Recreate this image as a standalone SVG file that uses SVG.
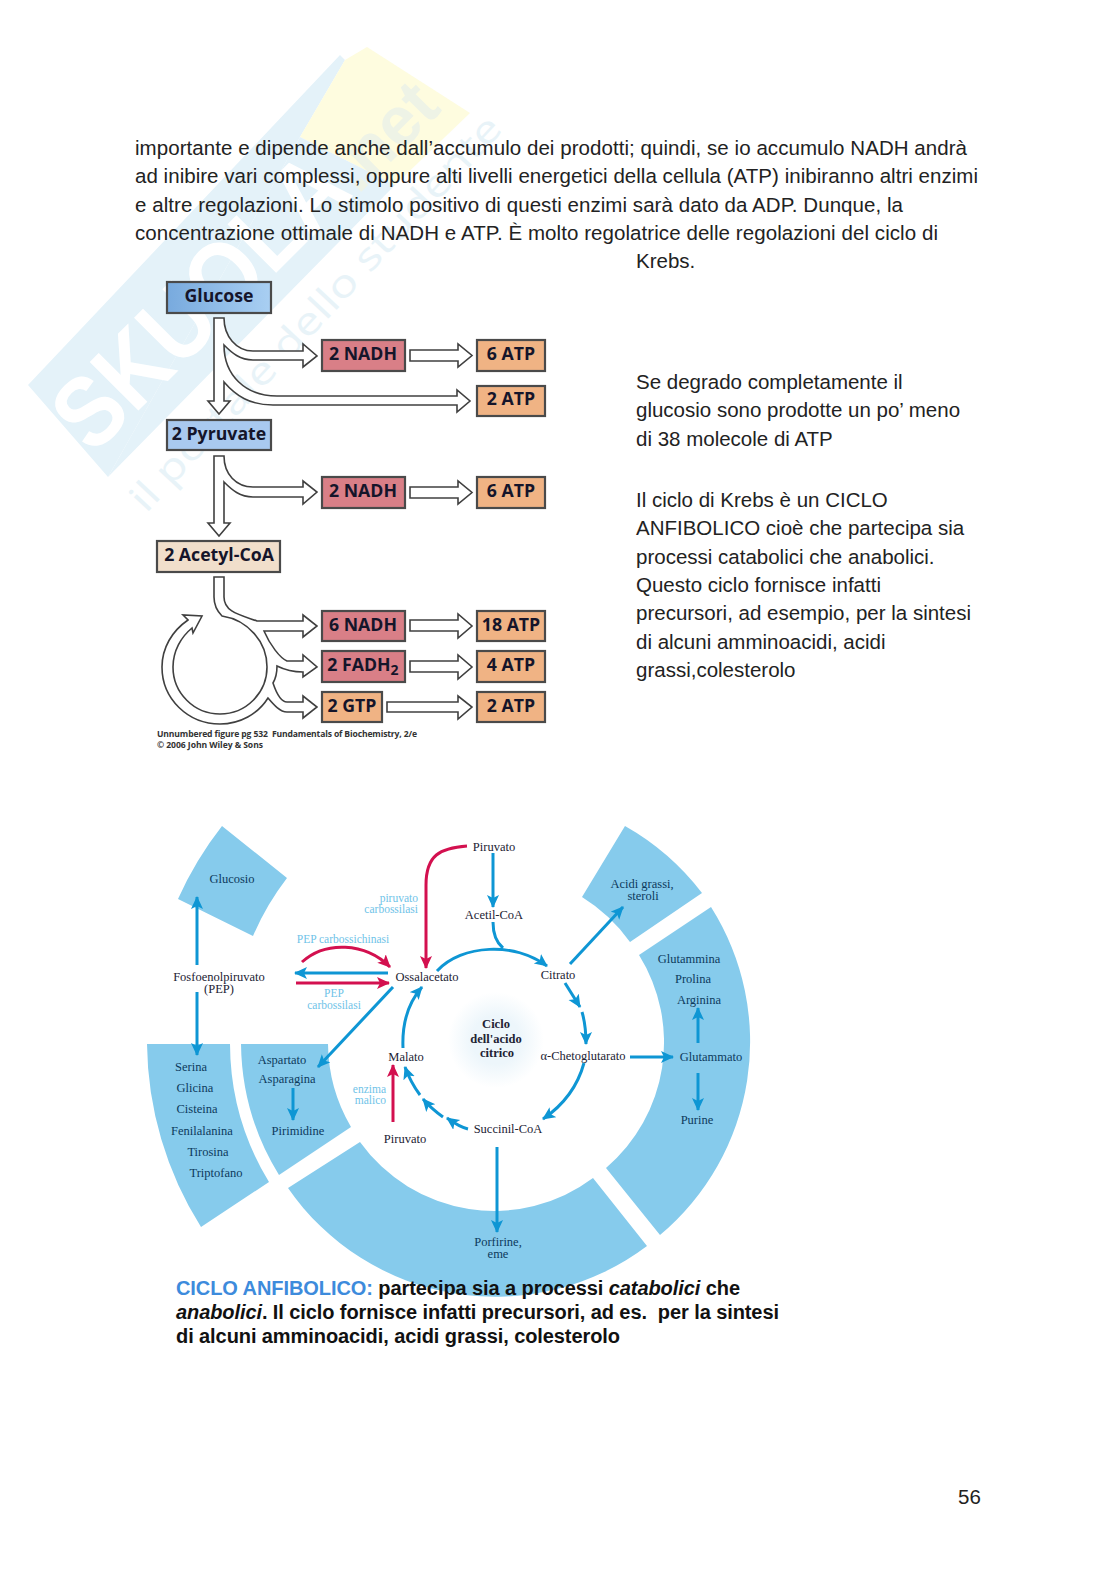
<svg xmlns="http://www.w3.org/2000/svg" width="1118" height="1579" viewBox="0 0 1118 1579">
<style>
.b{font-family:"Liberation Sans",Arial,sans-serif;font-size:20.5px;fill:#222}
.cap{font-family:"Liberation Sans",Arial,sans-serif;font-size:20px;font-weight:bold;fill:#111}
.box{stroke:#4a4a4a;stroke-width:2.2}
.bt{font-family:"Open Sans","Noto Sans",sans-serif;font-weight:700;font-size:17.7px;fill:#15152a;text-anchor:middle}
.ba{fill:#fff;stroke:#404040;stroke-width:1.6;stroke-linejoin:miter}
.fig{font-family:"Open Sans","Noto Sans",sans-serif;font-weight:700;font-size:8.6px;fill:#333}
.band{fill:#86cbec}
.s{font-family:"Liberation Serif","DejaVu Serif",serif;font-size:12.5px;fill:#223;text-anchor:middle}
.d{fill:#0d3a5c}
.e{font-family:"Liberation Serif","DejaVu Serif",serif;font-size:11.5px;fill:#6fc3e8}
.bl{fill:none;stroke:#0e96d4;stroke-width:3}
.rd{fill:none;stroke:#d3104f;stroke-width:3}
</style>
<defs>
<marker id="mb" markerUnits="userSpaceOnUse" markerWidth="16" markerHeight="14" refX="12" refY="6" orient="auto"><path d="M0,0L13,6L0,12L3,6Z" fill="#0e96d4"/></marker>
<marker id="mr" markerUnits="userSpaceOnUse" markerWidth="16" markerHeight="14" refX="12" refY="6" orient="auto"><path d="M0,0L13,6L0,12L3,6Z" fill="#d3104f"/></marker>
<linearGradient id="gg" x1="0" x2="1" y1="0" y2="0"><stop offset="0" stop-color="#78aade"/><stop offset="1" stop-color="#a9cff2"/></linearGradient>
<radialGradient id="glow"><stop offset="0.5" stop-color="#edf6fb"/><stop offset="1" stop-color="#fff"/></radialGradient>
</defs>
<rect width="1118" height="1579" fill="#fff"/>
<g id="watermark">
<path d="M28,385L340,55L345,60L300,137L108,477Z" fill="#e4f2f9"/>
<path d="M345,60L367,47L470,113L395,185L300,137Z" fill="#fefcdf"/>
<path d="M300,137L395,185L108,477Z" fill="#e4f2f9"/>
<text transform="translate(93,456) rotate(-45)" font-family="Liberation Sans,sans-serif" font-weight="700" font-size="100" fill="#fff" textLength="370" lengthAdjust="spacingAndGlyphs">SKUOLA</text>
<text transform="translate(358,195) rotate(-45)" font-family="Liberation Sans,sans-serif" font-weight="700" font-size="70" fill="#eef3e6" textLength="120" lengthAdjust="spacingAndGlyphs">.net</text>
<text transform="translate(146,514) rotate(-47)" font-family="Open Sans,sans-serif" font-size="38" fill="#e8f3f8" textLength="525" lengthAdjust="spacingAndGlyphs">il portale dello studente</text>
</g>
<g id="text-top">
<text class="b" x="135" y="155" textLength="832">importante e dipende anche dall’accumulo dei prodotti; quindi, se io accumulo NADH andrà</text>
<text class="b" x="135" y="183" textLength="843">ad inibire vari complessi, oppure alti livelli energetici della cellula (ATP) inibiranno altri enzimi</text>
<text class="b" x="135" y="212" textLength="768">e altre regolazioni. Lo stimolo positivo di questi enzimi sarà dato da ADP. Dunque, la</text>
<text class="b" x="135" y="240" textLength="803">concentrazione ottimale di NADH e ATP. È molto regolatrice delle regolazioni del ciclo di</text>
<text class="b" x="636" y="268">Krebs.</text>
<text class="b" x="636" y="389">Se degrado completamente il</text>
<text class="b" x="636" y="417">glucosio sono prodotte un po’ meno</text>
<text class="b" x="636" y="446">di 38 molecole di ATP</text>
<text class="b" x="636" y="507">Il ciclo di Krebs è un CICLO</text>
<text class="b" x="636" y="535">ANFIBOLICO cioè che partecipa sia</text>
<text class="b" x="636" y="564">processi catabolici che anabolici.</text>
<text class="b" x="636" y="592">Questo ciclo fornisce infatti</text>
<text class="b" x="636" y="620">precursori, ad esempio, per la sintesi</text>
<text class="b" x="636" y="649">di alcuni amminoacidi, acidi</text>
<text class="b" x="636" y="677">grassi,colesterolo</text>
</g>
<g id="flow-connectors">
<path class="ba" d="M214,318V401H208L219,414L230,401H224V382C236,396 250,405 273,405H457V412L470,401L457,390V396H277C245,396 224,375 224,345C232,353 240,360 253,360H303V367L317,356L303,344V351H253C236,351 224,336 224,318Z"/>
<path class="ba" d="M214,456V523H208L219,536L230,523H224V482C232,490 240,497 253,497H303V504L317,492L303,481V487H253C236,487 224,474 224,456Z"/>
<path class="ba" d="M214,577V597C214,605 218,612 222,616C248,620 267,642 267,667C267,693 246,714 220,714C194,714 173,693 173,667C173,651 181,637 192,628L193,633L202,616L183,615L188,620C172,631 162,648 162,667C162,699 188,724 220,724C240,724 258,714 268,698C274,705 280,712 287,712H303V718L317,707L303,696V702H287C280,702 276,692 273,683C276,678 277,672 277,666C285,670 295,672 303,672V677L317,667L303,655V661H287C280,658 270,645 264,631H303V637L317,626L303,615V621H257C240,615 224,612 224,597V577Z"/>
<path class="ba" d="M410,350H458V344L472,355.5L458,367V361H410Z"/>
<path class="ba" d="M410,487H458V481L472,492.5L458,504V498H410Z"/>
<path class="ba" d="M410,620H458V614L472,626L458,638V631H410Z"/>
<path class="ba" d="M410,661H458V655L472,667L458,679V672H410Z"/>
<path class="ba" d="M387,702H458V696L472,707L458,719V712H387Z"/>
</g>
<g id="glucose"><rect class="box" x="167" y="282" width="104" height="31" fill="url(#gg)"/><text class="bt" x="219" y="302">Glucose</text></g>
<g id="nadh1"><rect class="box" x="322" y="340" width="83" height="31" fill="#d97f87"/><text class="bt" x="363" y="360">2 NADH</text></g>
<g id="atp1"><rect class="box" x="477" y="340" width="68" height="31" fill="#f0b384"/><text class="bt" x="511" y="360">6 ATP</text></g>
<g id="atp2"><rect class="box" x="477" y="386" width="68" height="30" fill="#f0b384"/><text class="bt" x="511" y="405">2 ATP</text></g>
<g id="pyruvate"><rect class="box" x="167" y="420" width="104" height="30" fill="#a9c9ef"/><text class="bt" x="219" y="440">2 Pyruvate</text></g>
<g id="nadh2"><rect class="box" x="322" y="477" width="83" height="31" fill="#d97f87"/><text class="bt" x="363" y="497">2 NADH</text></g>
<g id="atp3"><rect class="box" x="477" y="477" width="68" height="31" fill="#f0b384"/><text class="bt" x="511" y="497">6 ATP</text></g>
<g id="acetyl"><rect class="box" x="157" y="541" width="123" height="31" fill="#f1dfcb"/><text class="bt" x="219" y="561">2 Acetyl-CoA</text></g>
<g id="nadh3"><rect class="box" x="322" y="611" width="83" height="30" fill="#d97f87"/><text class="bt" x="363" y="631">6 NADH</text></g>
<g id="atp4"><rect class="box" x="477" y="611" width="68" height="30" fill="#f0b384"/><text class="bt" x="511" y="631">18 ATP</text></g>
<g id="fadh"><rect class="box" x="322" y="651" width="83" height="31" fill="#d97f87"/><text class="bt" x="363" y="671">2 FADH<tspan font-size="14" dy="4">2</tspan></text></g>
<g id="atp5"><rect class="box" x="477" y="651" width="68" height="31" fill="#f0b384"/><text class="bt" x="511" y="671">4 ATP</text></g>
<g id="gtp"><rect class="box" x="322" y="692" width="60" height="30" fill="#f0b384"/><text class="bt" x="352" y="712">2 GTP</text></g>
<g id="atp6"><rect class="box" x="477" y="692" width="68" height="30" fill="#f0b384"/><text class="bt" x="511" y="712">2 ATP</text></g>
<text class="fig" x="157" y="737" textLength="260" xml:space="preserve">Unnumbered figure pg 532  Fundamentals of Biochemistry, 2/e</text>
<text class="fig" x="157" y="748" textLength="106">© 2006 John Wiley &amp; Sons</text>

<g id="bands">
<path class="band" d="M178,899A351,351 0 0 1 222,826L287,878A267,267 0 0 0 253,936Z"/>
<path class="band" d="M147,1044H230A267,267 0 0 0 269,1182L201,1227A350,350 0 0 1 147,1044Z"/>
<path class="band" d="M241,1044H328A167,167 0 0 0 351,1127L279,1175A255,255 0 0 1 241,1044Z"/>
<path class="band" d="M360,1142L288,1188A252,252 0 0 0 647,1246L593,1178A165,165 0 0 1 360,1142Z"/>
<path class="band" d="M639,955L711,907A252,252 0 0 1 660,1235L606,1168A165,165 0 0 0 639,955Z"/>
<path class="band" d="M582,897L625,826A254,254 0 0 1 702,893L630,942A167,167 0 0 0 582,897Z"/>
<circle cx="496" cy="1040" r="48" fill="url(#glow)"/>
</g>
<g id="cycle-connectors">
<path class="bl" marker-end="url(#mb)" d="M197,965V897"/>
<path class="bl" marker-end="url(#mb)" d="M197,992V1055"/>
<path class="rd" marker-end="url(#mr)" d="M302,962C325,941 365,942 390,967"/>
<path class="bl" marker-end="url(#mb)" d="M388,973H295"/>
<path class="rd" marker-end="url(#mr)" d="M296,983H389"/>
<path class="rd" marker-end="url(#mr)" d="M467,846C440,848 426,855 426,885V968"/>
<path class="bl" marker-end="url(#mb)" d="M393,987L318,1067"/>
<path class="bl" marker-end="url(#mb)" d="M403,1048C402,1025 408,1003 422,987"/>
<path class="bl" marker-end="url(#mb)" d="M437,971C462,944 515,942 547,966"/>
<path class="bl" d="M493,922C493,935 497,943 503,948"/>
<path class="bl" marker-end="url(#mb)" d="M493,853V907"/>
<path class="bl" marker-end="url(#mb)" d="M570,964L623,907"/>
<path class="bl" marker-end="url(#mb)" d="M565,983L580,1007"/>
<path class="bl" marker-end="url(#mb)" d="M582,1012C585,1022 586,1033 586,1044"/>
<path class="bl" marker-end="url(#mb)" d="M630,1057H673"/>
<path class="bl" marker-end="url(#mb)" d="M698,1043V1008"/>
<path class="bl" marker-end="url(#mb)" d="M698,1073V1110"/>
<path class="bl" marker-end="url(#mb)" d="M584,1063C578,1085 565,1104 543,1119"/>
<path class="bl" marker-end="url(#mb)" d="M497,1147V1232"/>
<path class="bl" marker-end="url(#mb)" d="M468,1129C460,1127 454,1123 447,1118"/>
<path class="bl" marker-end="url(#mb)" d="M443,1117C436,1112 429,1106 423,1099"/>
<path class="bl" marker-end="url(#mb)" d="M420,1095C414,1087 409,1078 405,1067"/>
<path class="rd" marker-end="url(#mr)" d="M393,1122V1065"/>
<path class="bl" marker-end="url(#mb)" d="M293,1088V1120"/>
</g>
<g id="cycle-labels">
<text class="s d" x="232" y="883">Glucosio</text>
<text class="s" x="219" y="981">Fosfoenolpiruvato</text>
<text class="s" x="219" y="993">(PEP)</text>
<text class="e" x="418" y="902" text-anchor="end">piruvato</text>
<text class="e" x="418" y="913" text-anchor="end">carbossilasi</text>
<text class="e" x="343" y="943" text-anchor="middle">PEP carbossichinasi</text>
<text class="e" x="334" y="997" text-anchor="middle">PEP</text>
<text class="e" x="334" y="1009" text-anchor="middle">carbossilasi</text>
<text class="s" x="427" y="981">Ossalacetato</text>
<text class="s" x="406" y="1061">Malato</text>
<text class="s d" x="282" y="1064">Aspartato</text>
<text class="s d" x="287" y="1083">Asparagina</text>
<text class="s d" x="298" y="1135">Pirimidine</text>
<text class="s d" x="191" y="1071">Serina</text>
<text class="s d" x="195" y="1092">Glicina</text>
<text class="s d" x="197" y="1113">Cisteina</text>
<text class="s d" x="202" y="1135">Fenilalanina</text>
<text class="s d" x="208" y="1156">Tirosina</text>
<text class="s d" x="216" y="1177">Triptofano</text>
<text class="e" x="386" y="1093" text-anchor="end">enzima</text>
<text class="e" x="386" y="1104" text-anchor="end">malico</text>
<text class="s" x="405" y="1143">Piruvato</text>
<text class="s" x="494" y="851">Piruvato</text>
<text class="s" x="494" y="919">Acetil-CoA</text>
<text class="s" x="558" y="979">Citrato</text>
<text class="s" x="496" y="1028" font-weight="700" fill="#111">Ciclo</text>
<text class="s" x="496" y="1043" font-weight="700" fill="#111">dell'acido</text>
<text class="s" x="497" y="1057" font-weight="700" fill="#111">citrico</text>
<text class="s" x="583" y="1060">α-Chetoglutarato</text>
<text class="s d" x="711" y="1061">Glutammato</text>
<text class="s d" x="642" y="888">Acidi grassi,</text>
<text class="s d" x="643" y="900">steroli</text>
<text class="s d" x="689" y="963">Glutammina</text>
<text class="s d" x="693" y="983">Prolina</text>
<text class="s d" x="699" y="1004">Arginina</text>
<text class="s d" x="697" y="1124">Purine</text>
<text class="s" x="508" y="1133">Succinil-CoA</text>
<text class="s d" x="498" y="1246">Porfirine,</text>
<text class="s d" x="498" y="1258">eme</text>
</g>
<g id="caption">
<text class="cap" x="176" y="1295" textLength="564"><tspan fill="#3d8bdc">CICLO ANFIBOLICO:</tspan> partecipa sia a processi <tspan font-style="italic">catabolici</tspan> che</text>
<text class="cap" x="176" y="1319" textLength="603" xml:space="preserve"><tspan font-style="italic">anabolici</tspan>. Il ciclo fornisce infatti precursori, ad es.  per la sintesi</text>
<text class="cap" x="176" y="1343" textLength="444">di alcuni amminoacidi, acidi grassi, colesterolo</text>
</g>
<text class="b" x="958" y="1504">56</text>
</svg>
